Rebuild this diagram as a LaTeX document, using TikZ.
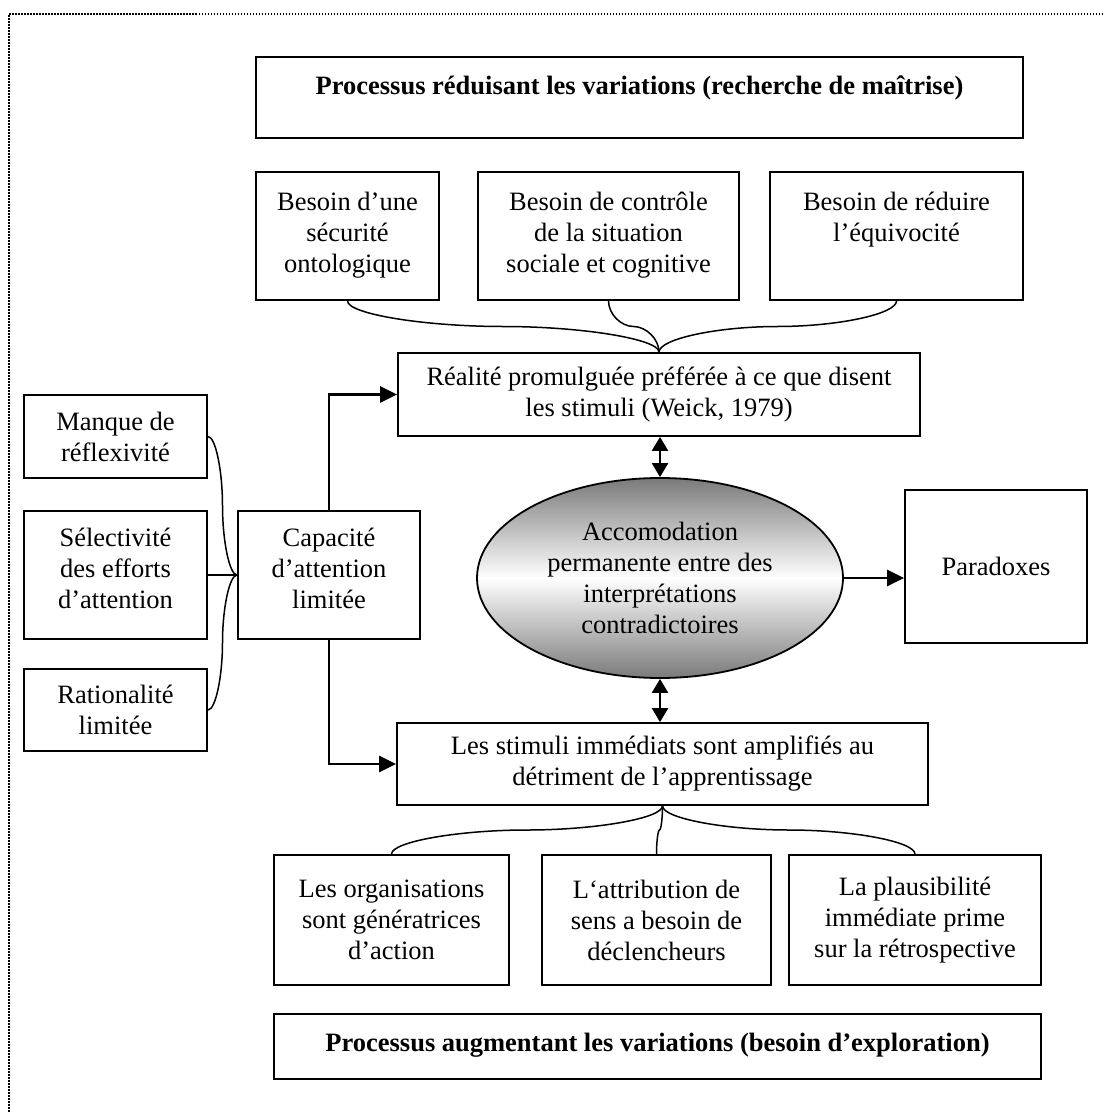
\documentclass[tikz,border=0pt]{standalone}
\usepackage{fontspec}
\setmainfont{Liberation Serif}
\usetikzlibrary{shapes.geometric,arrows.meta}
\begin{document}
\begin{tikzpicture}[x=1pt,y=-1pt,
  every node/.style={font=\fontsize{26.5}{31}\selectfont},
  box/.style={draw, line width=1.8pt, rectangle, align=center, inner sep=0pt},
  titlebox/.style={box, font=\fontsize{26.5}{31}\selectfont\bfseries, anchor=north},
  link/.style={line width=1.5pt},
  arr/.style={line width=2.4pt, -{Triangle[length=17pt,width=16pt]}},
  darr/.style={line width=2.4pt, {Triangle[length=14pt,width=16pt]}-{Triangle[length=14pt,width=16pt]}},
]
\useasboundingbox (0,0) rectangle (1103,1113);
% dotted frame
\draw[line width=1.5pt, dash pattern=on 1.5pt off 1.5pt] (1103,14) -- (9,14) -- (9,1113);

% upper title
\node[titlebox, minimum width=767pt, text height=38pt, text depth=43pt] (top) at (639.5,56)
  {Processus réduisant les variations (recherche de maîtrise)};

% needs (text set towards the top of each box)
\node[box, minimum width=183pt, minimum height=128pt] (b1) at (347.5,236) {Besoin d’une\\sécurité\\ontologique\\[-23pt]\mbox{}};
\node[box, minimum width=261pt, minimum height=128pt] (b2) at (608.5,236) {Besoin de contrôle\\de la situation\\sociale et cognitive\\[-23pt]\mbox{}};
\node[box, minimum width=253pt, minimum height=128pt] (b3) at (896.5,236) {Besoin de réduire\\l’équivocité\\\mbox{}\\[-23pt]\mbox{}};

% enacted reality
\node[box, minimum width=522pt, minimum height=83pt] (realite) at (659,394.5) {Réalité promulguée préférée à ce que disent\\les stimuli (Weick, 1979)};

% left column
\node[box, minimum width=183pt, minimum height=83pt] (manque) at (115.5,436.5) {Manque de\\réflexivité};
\node[box, minimum width=183pt, minimum height=128pt] (select) at (115.5,575) {Sélectivité\\des efforts\\d’attention\\[-17pt]\mbox{}};
\node[box, minimum width=183pt, minimum height=82pt] (ratio) at (115.5,710) {Rationalité\\limitée};
\node[box, minimum width=182pt, minimum height=128pt] (cap) at (329,575) {Capacité\\d’attention\\limitée\\[-17pt]\mbox{}};

% central ellipse
\node[ellipse, draw, line width=1.8pt, minimum width=366pt, minimum height=200pt, inner sep=0pt, align=center,
      top color=black!52, bottom color=black!52, middle color=white] (ell) at (660,578)
  {Accomodation\\permanente entre des\\interprétations\\contradictoires};

\node[box, minimum width=182pt, minimum height=153pt] (para) at (996,566.5) {Paradoxes};

% amplified stimuli
\node[box, minimum width=531pt, minimum height=82pt] (stim) at (662.5,764) {Les stimuli immédiats sont amplifiés au\\détriment de l’apprentissage};

% lower boxes
\node[box, minimum width=235pt, minimum height=130pt] (c1) at (391.5,920) {Les organisations\\sont génératrices\\d’action};
\node[box, minimum width=229pt, minimum height=130pt] (c2) at (656.5,920) {L‘attribution de\\sens a besoin de\\déclencheurs};
\node[box, minimum width=252pt, minimum height=130pt] (c3) at (915,920) {La plausibilité\\immédiate prime\\sur la rétrospective};

% lower title
\node[titlebox, minimum width=767pt, text height=37.6pt, text depth=27.4pt] (bottom) at (657.5,1013)
  {Processus augmentant les variations (besoin d’exploration)};

% bend points of the curved connectors
\coordinate (m1) at (503,326.5);
\coordinate (m2) at (633.5,326.5);
\coordinate (m3) at (777.5,326.5);
\coordinate (n1) at (527,830);
\coordinate (n2) at (659.5,830);
\coordinate (n3) at (789,830);
\coordinate (l1) at (222.5,505.75);
\coordinate (l3) at (222.5,642.5);

% needs -> enacted reality
\draw[link] (b1.south) .. controls +(0,13.25) and +(-77.6,0) .. (m1) .. controls +(77.6,0) and +(0,-13.25) .. (realite.north);
\draw[link] (b2.south) .. controls +(0,13.25) and +(-12.4,0) .. (m2) .. controls +(12.4,0) and +(0,-13.25) .. (realite.north);
\draw[link] (b3.south) .. controls +(0,13.25) and +(59.6,0) .. (m3) .. controls +(-59.6,0) and +(0,-13.25) .. (realite.north);

% left causes -> limited attention
\draw[link] (manque.east) .. controls +(7.75,0) and +(0,-34.6) .. (l1) .. controls +(0,34.6) and +(-7.75,0) .. (cap.west);
\draw[link] (select.east) -- (cap.west);
\draw[link] (ratio.east) .. controls +(7.75,0) and +(0,33.75) .. (l3) .. controls +(0,-33.75) and +(-7.75,0) .. (cap.west);

% amplified stimuli -> lower boxes
\draw[link] (stim.south) .. controls +(0,12.5) and +(67.8,0) .. (n1) .. controls +(-67.8,0) and +(0,-12.5) .. (c1.north);
\draw[link] (stim.south) .. controls +(0,12.5) and +(1.5,0) .. (n2) .. controls +(-1.5,0) and +(0,-12.5) .. (c2.north);
\draw[link] (stim.south) .. controls +(0,12.5) and +(-63.1,0) .. (n3) .. controls +(63.1,0) and +(0,-12.5) .. (c3.north);

% arrows
\draw[arr] (cap.north) |- (realite.west);
\draw[arr] (cap.south) |- (stim.west);
\draw[darr] (ell.north |- realite.south) -- (ell.north);
\draw[darr] (ell.south) -- (ell.south |- stim.north);
\draw[arr] (ell.east) -- (para.west |- ell.east);
\end{tikzpicture}
\end{document}
